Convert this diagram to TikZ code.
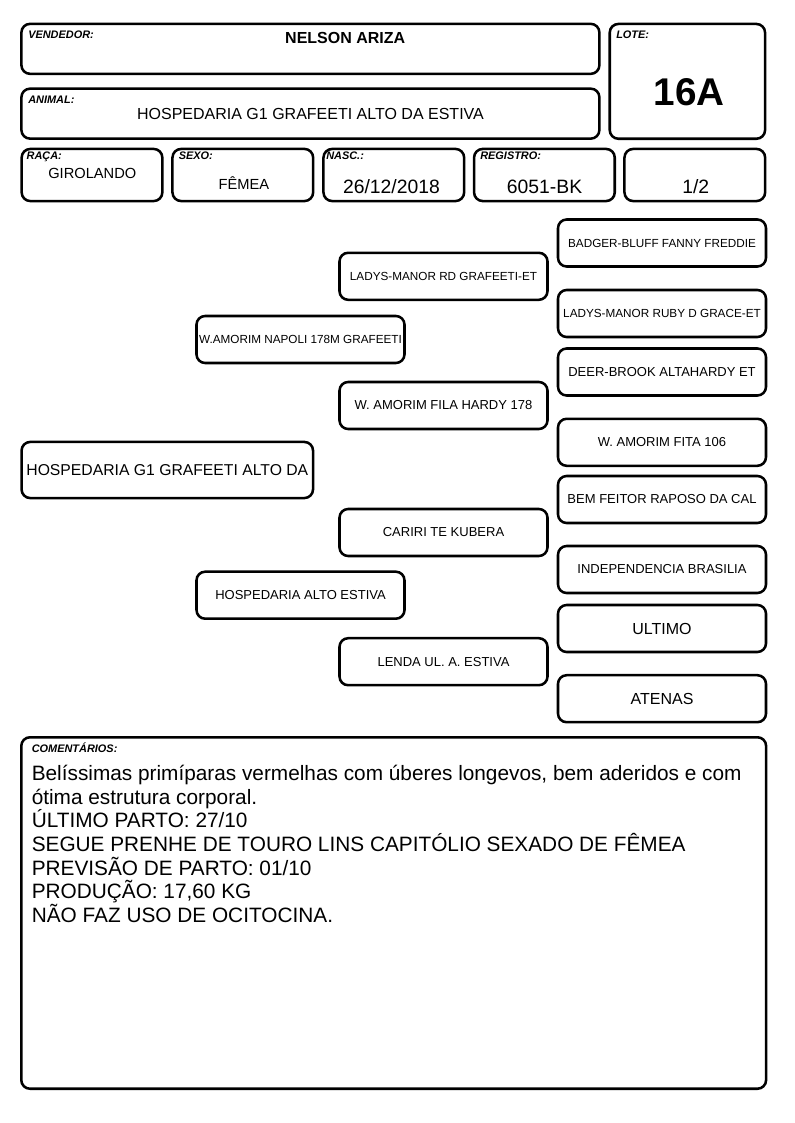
\documentclass[tikz,border=0pt]{standalone}
\usepackage{fontspec}
\setmainfont{Liberation Sans}
\usetikzlibrary{positioning}

\begin{document}
\begin{tikzpicture}[x=0.75pt,y=-0.75pt,
  frame/.style={draw,line width=1.9pt,rounded corners=6.5pt,inner sep=0pt,align=center},
  wide/.style={frame,minimum width=433.5pt,minimum height=37.5pt},
  cell/.style={frame,minimum width=105.5pt,minimum height=39.1pt},
  ped/.style={frame,minimum width=156pt,minimum height=35.25pt,font=\fontsize{8.8}{10}\selectfont},
  pedb/.style={ped,font=\fontsize{9.75}{11}\selectfont},
  lbl/.style={anchor=base west,inner sep=0pt,font=\fontsize{8.2}{9.5}\selectfont\bfseries\itshape},
  val/.style={anchor=base,inner sep=0pt}
]
\useasboundingbox (0,0) rectangle (794,1123);
% header
\node[wide] (vendedor) at (310.4,48.85) {};
\node[wide] (animal) at (310.4,113.65) {};
\node[frame,minimum width=116.5pt,minimum height=86.1pt] (lote) at (687.4,81.35) {};
\node[cell] (raca) at (92,175) {};
\node[cell] (sexo) at (242.8,175) {};
\node[cell] (nasc) at (393.8,175) {};
\node[cell] (registro) at (544.4,175) {};
\node[cell] (fracao) at (694.8,175) {};
\node[lbl] (lvend) at (28,39) {VENDEDOR:};
\node[lbl] (llote) at (616,39) {LOTE:};
\node[lbl] (lanim) at (28,103.5) {ANIMAL:};
\node[lbl] (lraca) at (26.4,160) {RAÇA:};
\node[lbl] (lsexo) at (178.5,160) {SEXO:};
\node[lbl] (lnasc) at (326,160) {NASC.:};
\node[lbl] (lreg) at (480,160) {REGISTRO:};
\node[val,font=\fontsize{12}{14}\selectfont\bfseries] (vvend) at (345.2,43.3) {NELSON ARIZA};
\node[val,font=\fontsize{29}{32}\selectfont\bfseries] (vlote) at (689,106) {16A};
\node[val,font=\fontsize{12}{14}\selectfont] (vanim) at (310.5,119.3) {HOSPEDARIA G1 GRAFEETI ALTO DA ESTIVA};
\node[val,font=\fontsize{11}{13}\selectfont] (vraca) at (92.3,178.7) {GIROLANDO};
\node[val,font=\fontsize{11}{13}\selectfont] (vsexo) at (244,189.3) {FÊMEA};
\node[val,font=\fontsize{14.5}{17}\selectfont] (vnasc) at (391.5,194) {26/12/2018};
\node[val,font=\fontsize{14.5}{17}\selectfont] (vreg) at (544.6,194) {6051-BK};
\node[val,font=\fontsize{14.5}{17}\selectfont] (vfrac) at (695.8,194) {1/2};
% pedigree
\node[frame,minimum width=218.6pt,minimum height=42.1pt,font=\fontsize{11.8}{14}\selectfont] (an) at (167.3,470) {HOSPEDARIA G1 GRAFEETI ALTO DA};
\node[ped] (p) at (300.5,339.5) {W.AMORIM NAPOLI 178M GRAFEETI};
\node[pedb] (m) at (300.5,595.2) {HOSPEDARIA ALTO ESTIVA};
\node[ped] (pp) at (443.5,276.3) {LADYS-MANOR RD GRAFEETI-ET};
\node[pedb] (pm) at (443.5,405.5) {W. AMORIM FILA HARDY 178};
\node[pedb] (mp) at (443.5,532.5) {CARIRI TE KUBERA};
\node[pedb] (mm) at (443.5,661.7) {LENDA UL. A. ESTIVA};
\node[ped] (ppp) at (662,243) {BADGER-BLUFF FANNY FREDDIE};
\node[ped] (ppm) at (662,313.5) {LADYS-MANOR RUBY D GRACE-ET};
\node[pedb] (pmp) at (662,372) {DEER-BROOK ALTAHARDY ET};
\node[pedb] (pmm) at (662,442.3) {W. AMORIM FITA 106};
\node[pedb] (mpp) at (662,499.5) {BEM FEITOR RAPOSO DA CAL};
\node[pedb] (mpm) at (662,569.5) {INDEPENDENCIA BRASILIA};
\node[ped,font=\fontsize{12}{14}\selectfont] (mmp) at (662,628.5) {ULTIMO};
\node[ped,font=\fontsize{12}{14}\selectfont] (mmm) at (662,698.7) {ATENAS};
% comentarios
\node[frame,minimum width=558.6pt,minimum height=263.6pt] (coment) at (393.7,913) {};
\node[lbl] (lcom) at (31.5,752) {COMENTÁRIOS:};
\node[anchor=north west,inner sep=0pt,align=left,font=\fontsize{15.6}{17.75}\selectfont] (tcom) at (31.5,765) {Belíssimas primíparas vermelhas com úberes longevos, bem aderidos e com\\ótima estrutura corporal.\\ÚLTIMO PARTO: 27/10\\SEGUE PRENHE DE TOURO LINS CAPITÓLIO SEXADO DE FÊMEA\\PREVISÃO DE PARTO: 01/10\\PRODUÇÃO: 17,60 KG\\NÃO FAZ USO DE OCITOCINA.};
\end{tikzpicture}
\end{document}
